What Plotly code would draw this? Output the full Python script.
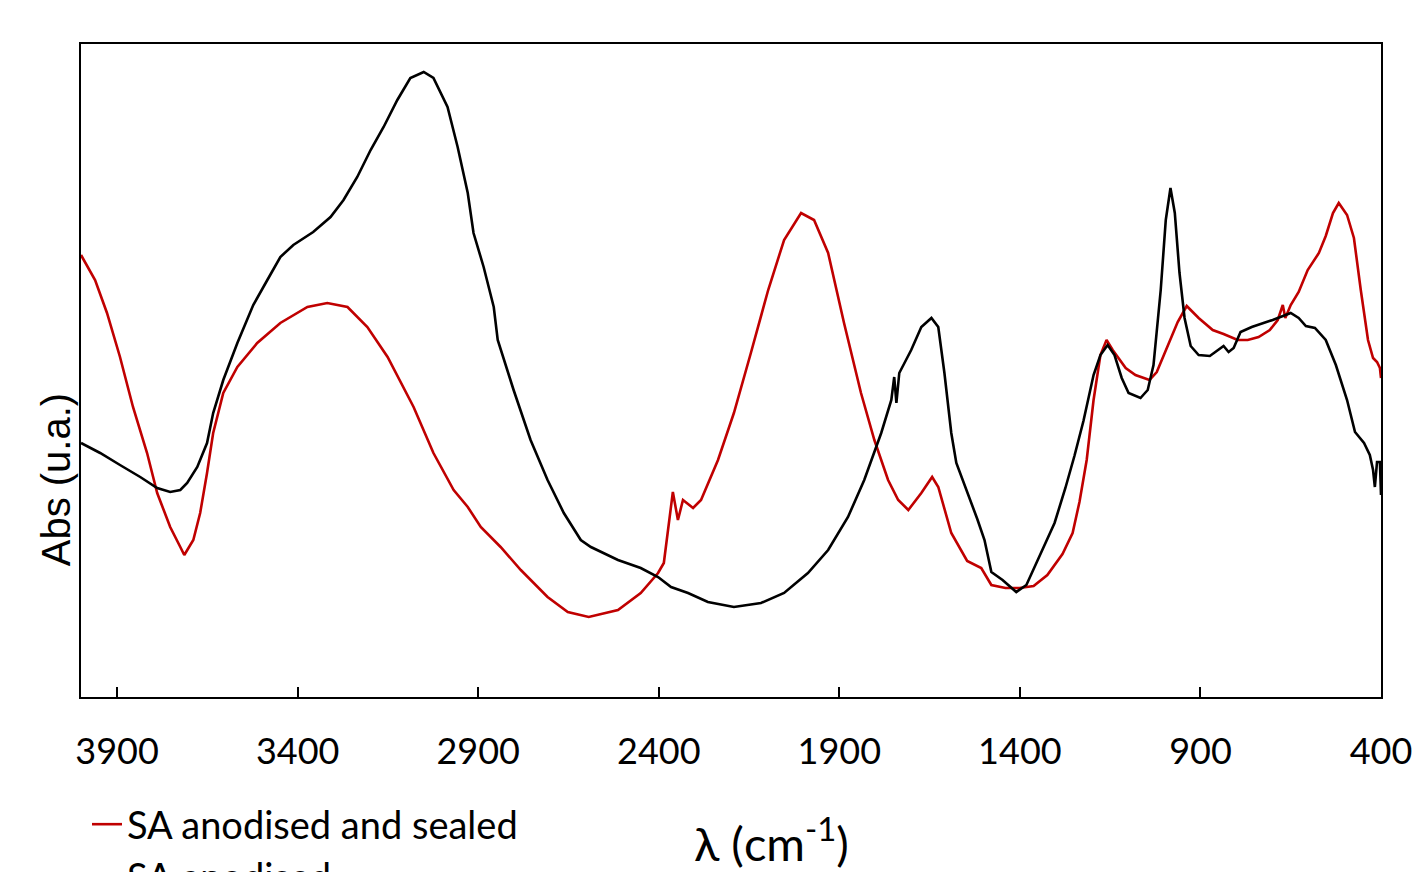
import plotly.graph_objects as go

# Wavenumber (cm-1) and absorbance (arbitrary units)
sealed_wn = [4000, 3961, 3928, 3892, 3856, 3817, 3789, 3753, 3725, 3714, 3689, 3670, 3651, 3634,
             3606, 3567, 3512, 3448, 3373, 3318, 3262, 3207, 3151, 3079, 3024, 2968, 2929, 2893,
             2838, 2782, 2708, 2652, 2594, 2513, 2450, 2402, 2386, 2375, 2361, 2347, 2333, 2305,
             2283, 2236, 2192, 2145, 2097, 2053, 2006, 1970, 1931, 1887, 1840, 1803, 1765, 1737,
             1709, 1673, 1643, 1626, 1590, 1546, 1507, 1479, 1440, 1401, 1362, 1324, 1282, 1254,
             1235, 1215, 1196, 1177, 1160, 1143, 1107, 1080, 1041, 1021, 991, 963, 938, 905, 866,
             836, 797, 769, 739, 708, 686, 672, 665, 650, 628, 603, 572, 553, 533, 517, 494, 475,
             456, 436, 422, 411, 403, 400]
sealed_abs = [0.442, 0.417, 0.384, 0.340, 0.290, 0.244, 0.204, 0.170, 0.150, 0.142, 0.157, 0.184,
              0.224, 0.264, 0.304, 0.330, 0.354, 0.374, 0.390, 0.394, 0.390, 0.370, 0.340, 0.290,
              0.244, 0.207, 0.190, 0.170, 0.150, 0.127, 0.100, 0.085, 0.080, 0.087, 0.104, 0.124,
              0.134, 0.164, 0.205, 0.177, 0.197, 0.189, 0.197, 0.237, 0.284, 0.344, 0.407, 0.457,
              0.484, 0.477, 0.444, 0.374, 0.304, 0.257, 0.217, 0.197, 0.187, 0.204, 0.220, 0.210,
              0.164, 0.136, 0.129, 0.112, 0.109, 0.109, 0.111, 0.122, 0.143, 0.164, 0.195, 0.237,
              0.297, 0.342, 0.357, 0.347, 0.329, 0.322, 0.317, 0.325, 0.351, 0.375, 0.391, 0.379,
              0.367, 0.363, 0.357, 0.357, 0.360, 0.367, 0.377, 0.392, 0.379, 0.392, 0.405, 0.427,
              0.444, 0.461, 0.484, 0.494, 0.482, 0.459, 0.407, 0.357, 0.339, 0.335, 0.329, 0.319]

anod_wn = [4000, 3947, 3892, 3836, 3789, 3753, 3725, 3706, 3678, 3651, 3634, 3606, 3567, 3523,
           3484, 3448, 3412, 3357, 3309, 3273, 3235, 3198, 3162, 3124, 3088, 3051, 3024, 2985,
           2957, 2929, 2913, 2885, 2857, 2846, 2802, 2755, 2708, 2663, 2616, 2588, 2513, 2450,
           2402, 2366, 2319, 2264, 2192, 2117, 2053, 1987, 1931, 1876, 1831, 1784, 1756, 1748,
           1742, 1734, 1701, 1673, 1645, 1626, 1609, 1590, 1576, 1546, 1518, 1498, 1479, 1448,
           1410, 1382, 1343, 1304, 1274, 1249, 1224, 1196, 1177, 1157, 1138, 1118, 1099, 1066,
           1046, 1030, 1010, 996, 983, 971, 958, 944, 927, 905, 874, 849, 836, 822, 808, 789,
           758, 700, 650, 628, 608, 583, 553, 525, 494, 472, 447, 431, 422, 417, 411, 403, 400]
anod_abs = [0.254, 0.244, 0.232, 0.220, 0.209, 0.205, 0.207, 0.214, 0.230, 0.254, 0.284, 0.317,
            0.354, 0.392, 0.417, 0.440, 0.452, 0.465, 0.480, 0.497, 0.520, 0.547, 0.570, 0.597,
            0.619, 0.625, 0.619, 0.590, 0.550, 0.504, 0.464, 0.430, 0.390, 0.357, 0.307, 0.257,
            0.217, 0.184, 0.157, 0.150, 0.137, 0.129, 0.120, 0.110, 0.104, 0.095, 0.090, 0.094,
            0.104, 0.124, 0.147, 0.180, 0.217, 0.264, 0.297, 0.320, 0.294, 0.324, 0.347, 0.370,
            0.379, 0.370, 0.324, 0.264, 0.234, 0.206, 0.178, 0.157, 0.125, 0.117, 0.105, 0.112,
            0.143, 0.174, 0.209, 0.241, 0.276, 0.322, 0.342, 0.352, 0.342, 0.319, 0.304, 0.299,
            0.307, 0.332, 0.407, 0.477, 0.509, 0.484, 0.424, 0.379, 0.351, 0.342, 0.341, 0.347,
            0.351, 0.345, 0.349, 0.365, 0.370, 0.377, 0.384, 0.379, 0.371, 0.369, 0.357, 0.332,
            0.297, 0.265, 0.254, 0.242, 0.227, 0.210, 0.235, 0.235, 0.202]

tick_vals = [3900, 3400, 2900, 2400, 1900, 1400, 900, 400]
tick_text = [str(v) for v in tick_vals]

series_names = ["SA anodised and sealed", "SA anodised"]
series_colors = ["#C00000", "#000000"]

fig = go.Figure()
fig.add_trace(go.Scatter(x=sealed_wn, y=sealed_abs, mode="lines", name=series_names[0],
                         line=dict(color=series_colors[0], width=2.6)))
fig.add_trace(go.Scatter(x=anod_wn, y=anod_abs, mode="lines", name=series_names[1],
                         line=dict(color=series_colors[1], width=2.6)))

fig.update_layout(
    width=1412, height=872,
    margin=dict(l=81, r=31, t=44, b=175, autoexpand=False),
    paper_bgcolor="white", plot_bgcolor="white",
    font=dict(family="Lato", color="black"),
    showlegend=True,
    legend=dict(x=0.0046, y=-0.147, xanchor="left", yanchor="top",
                font=dict(size=38, family="Lato"), bgcolor="rgba(0,0,0,0)",
                tracegroupgap=0, traceorder="normal"),
    xaxis=dict(range=[4000, 400], tickvals=tick_vals, ticktext=tick_text,
               ticks="inside", ticklen=10, tickwidth=1.5, tickcolor="black",
               showline=True, linecolor="black", linewidth=2, mirror=True,
               showgrid=False, zeroline=False, automargin=False,
               ticklabeloverflow="allow",
               tickfont=dict(size=36, family="Lato", color="black"),
               ticklabelstandoff=22),
    yaxis=dict(range=[0, 0.653], showticklabels=False, ticks="",
               showline=True, linecolor="black", linewidth=2, mirror=True,
               showgrid=False, zeroline=False, automargin=False),
    annotations=[
        dict(text="λ (cm<sup>-1</sup>)", xref="paper", yref="paper",
             x=0.5315, y=-0.219, xanchor="center", yanchor="middle", showarrow=False,
             font=dict(size=47, family="Lato", color="black")),
        dict(text="Abs (u.a.)", xref="paper", yref="paper",
             x=-0.0192, y=0.332, xanchor="center", yanchor="middle", showarrow=False,
             textangle=-90, font=dict(size=40, family="Liberation Sans", color="black")),
    ],
)

fig.write_html(
    "out.html",
    config={"displayModeBar": False},
    post_script="document.body.style.margin='0';document.body.style.overflow='hidden';",
)
